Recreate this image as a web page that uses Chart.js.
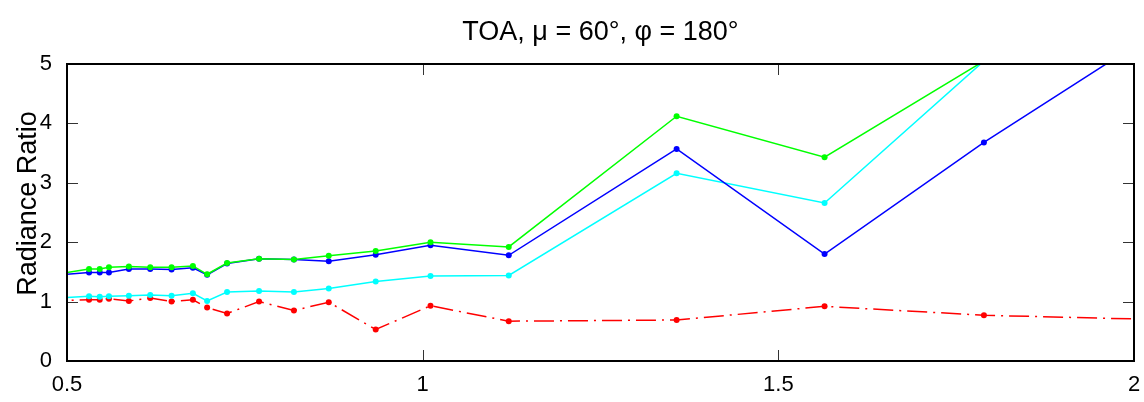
<!DOCTYPE html>
<html>
<head>
<meta charset="utf-8">
<script src="https://cdn.jsdelivr.net/npm/chart.js@4.4.0/dist/chart.umd.min.js"></script>
<style>
  body { margin: 0; background: #fff; }
  #wrap { width: 1144px; height: 402px; }
</style>
</head>
<body>
<div id="wrap"><canvas id="myChart"></canvas></div>
<script>
// wavelength (x) and the four radiance ratio series
const wavelength = [0.47, 0.531, 0.546, 0.559, 0.587, 0.617, 0.647, 0.677, 0.697, 0.725, 0.770, 0.819, 0.868, 0.934, 1.011, 1.121, 1.357, 1.565, 1.789, 2.13];
const greenRatio = [1.43, 1.55, 1.55, 1.58, 1.59, 1.58, 1.58, 1.60, 1.46, 1.65, 1.72, 1.71, 1.77, 1.85, 2.00, 1.92, 4.12, 3.43, 5.05, 6.5];
const blueRatio  = [1.43, 1.49, 1.49, 1.49, 1.55, 1.55, 1.54, 1.57, 1.45, 1.64, 1.72, 1.71, 1.68, 1.79, 1.95, 1.78, 3.57, 1.80, 3.68, 6.3];
const cyanRatio  = [1.05, 1.09, 1.08, 1.09, 1.10, 1.11, 1.10, 1.14, 1.01, 1.16, 1.18, 1.16, 1.22, 1.34, 1.43, 1.44, 3.16, 2.66, 5.05, 6.5];
const redRatio   = [1.01, 1.03, 1.03, 1.05, 1.01, 1.06, 1.00, 1.03, 0.90, 0.80, 1.00, 0.85, 0.99, 0.53, 0.93, 0.67, 0.69, 0.92, 0.77, 0.67];

const xTickLabels = ["0.5", "1", "1.5", "2"];
const yTickLabels = ["0", "1", "2", "3", "4", "5"];
const yAxisLabel = "Radiance Ratio";

const FONT = "'Liberation Sans', Arial, Helvetica, sans-serif";

function toPoints(values) {
  return wavelength.map((w, i) => ({ x: w, y: values[i] }));
}

function series(values, color, dash) {
  return {
    data: toPoints(values),
    borderColor: color,
    backgroundColor: color,
    borderWidth: 1.5,
    borderDash: dash || [],
    pointRadius: 3,
    pointHoverRadius: 3,
    pointBorderWidth: 0,
    tension: 0,
    clip: 0,
  };
}

// box round the plot with inward ticks on every side, plus the y label
const frame = {
  id: "frame",
  afterDatasetsDraw(chart) {
    const { ctx, chartArea: a, scales: { x, y } } = chart;
    ctx.save();
    ctx.strokeStyle = "#333";
    ctx.lineWidth = 1;
    ctx.beginPath();
    x.ticks.forEach((t) => {
      const px = Math.round(x.getPixelForValue(t.value)) + 0.5;
      ctx.moveTo(px, a.bottom); ctx.lineTo(px, a.bottom - 11);
      ctx.moveTo(px, a.top); ctx.lineTo(px, a.top + 11);
    });
    y.ticks.forEach((t) => {
      const py = Math.round(y.getPixelForValue(t.value)) + 0.5;
      ctx.moveTo(a.left, py); ctx.lineTo(a.left + 11, py);
      ctx.moveTo(a.right, py); ctx.lineTo(a.right - 11, py);
    });
    ctx.stroke();
    ctx.strokeStyle = "#000";
    ctx.lineWidth = 2;
    ctx.strokeRect(a.left, a.top, a.right - a.left, a.bottom - a.top);

    // y axis label
    ctx.translate(29, (a.top + a.bottom) / 2 - 9);
    ctx.rotate(-Math.PI / 2);
    ctx.fillStyle = "#000";
    ctx.font = "27px " + FONT;
    ctx.textAlign = "center";
    ctx.textBaseline = "middle";
    ctx.fillText(yAxisLabel, 0, 0);
    ctx.restore();
  },
};

const ctx = document.getElementById("myChart").getContext("2d");

const myChart = new Chart(ctx, {
  type: "line",
  data: {
    datasets: [
      series(greenRatio, "rgb(0,255,0)"),
      series(blueRatio, "rgb(0,0,255)"),
      series(cyanRatio, "rgb(0,255,255)"),
      series(redRatio, "rgb(255,0,0)", [20, 6, 2, 6]),
    ],
  },
  options: {
    responsive: true,
    maintainAspectRatio: false,
    animation: false,
    events: [],
    layout: { padding: { left: 0, right: 10, top: 0, bottom: 0 } },
    plugins: {
      legend: { display: false },
      tooltip: { enabled: false },
      title: {
        display: true,
        fullSize: false,
        text: "TOA, \u03bc = 60\u00b0, \u03c6 = 180\u00b0",
        color: "#000",
        font: { family: FONT, size: 27, weight: "normal" },
        padding: { top: 16, bottom: 15.6 },
      },
    },
    scales: {
      x: {
        type: "linear",
        min: 0.5,
        max: 2,
        grid: { display: false },
        border: { display: false },
        afterFit: (scale) => { scale.height = 41; },
        ticks: {
          stepSize: 0.5,
          padding: 3,
          color: "#000",
          maxRotation: 0,
          font: { family: FONT, size: 22 },
          callback: (value) => xTickLabels[Math.round((value - 0.5) / 0.5)],
        },
      },
      y: {
        min: 0,
        max: 5,
        grid: { display: false },
        border: { display: false },
        afterFit: (scale) => { scale.width = 67; },
        ticks: {
          stepSize: 1,
          padding: 7,
          color: "#000",
          font: { family: FONT, size: 22 },
          callback: (value) => yTickLabels[value],
        },
      },
    },
  },
  plugins: [frame],
});
</script>
</body>
</html>
